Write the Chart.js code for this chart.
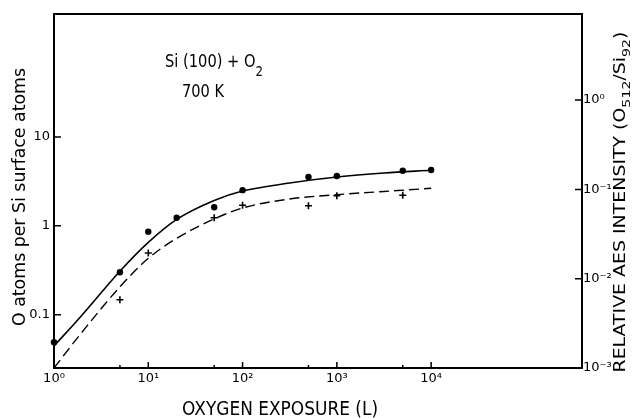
<!DOCTYPE html>
<html lang="en">
<head>
    <meta charset="UTF-8">
    <title>Si(100) + O2, 700 K</title>
    <script src="https://cdn.jsdelivr.net/npm/chart.js@4.4.0"></script>
    <style>
        html, body { margin: 0; padding: 0; background: #fff; }
        .chart-box { position: relative; width: 636px; height: 418px; }
    </style>
</head>
<body>
    <div class="chart-box">
        <canvas id="oxChart"></canvas>
    </div>

    <script>
        // measured points (solid circles, left axis)
        const exposure = [1, 5, 10, 20, 50, 100, 500, 1000, 5000, 10000];
        const coverage = [0.049, 0.30, 0.86, 1.23, 1.62, 2.52, 3.54, 3.64, 4.17, 4.24];

        // AES intensity points (crosses, right axis)
        const aesExposure = [5, 10, 50, 100, 500, 1000, 5000];
        const aesIntensity = [0.0058, 0.0194, 0.0482, 0.0664, 0.0657, 0.0849, 0.0859];

        // hand-drawn curves
        const fitExposure = [1, 2, 5, 10, 20, 50, 100, 316, 1000, 3162, 10000];
        const coverageFit = [0.0443, 0.100, 0.308, 0.65, 1.18, 1.93, 2.46, 3.03, 3.54, 3.93, 4.22];
        const aesFit = [0.001, 0.00255, 0.0081, 0.0169, 0.0283, 0.0466, 0.0619, 0.0781, 0.0873, 0.0948, 0.1028];

        // ticks
        const xMajorTicks = [1, 10, 100, 1000, 10000];
        const xTickLabels = ['10⁰', '10¹', '10²', '10³', '10⁴'];
        const xMinorTicks = [5, 50, 500, 5000];
        const yTicks = [0.1, 1, 10];
        const yTickLabels = ['0.1', '1', '10'];
        const y2Ticks = [0.001, 0.01, 0.1, 1];
        const y2TickLabels = ['10⁻³', '10⁻²', '10⁻¹', '10⁰'];

        const FONT = '"DejaVu Sans", sans-serif';

        const pts = (xs, ys) => xs.map((x, i) => ({ x: x, y: ys[i] }));
        const labelFor = (vals, labels) => (v) => {
            const i = vals.findIndex(t => Math.abs(t - v) / t < 1e-6);
            return i < 0 ? '' : labels[i];
        };

        // text squeezed to a given width, with optional subscripts
        function drawRich(ctx, parts, x, y, size, width, angle, subScale, subDrop) {
            ctx.save();
            ctx.translate(x, y);
            ctx.rotate(angle);
            let natural = 0;
            parts.forEach(p => {
                ctx.font = (p[1] ? size * subScale : size) + 'px ' + FONT;
                natural += ctx.measureText(p[0]).width;
            });
            ctx.scale(width / natural, 1);
            ctx.textAlign = 'left';
            ctx.textBaseline = 'alphabetic';
            ctx.fillStyle = '#000';
            let cx = -natural / 2;
            parts.forEach(p => {
                ctx.font = (p[1] ? size * subScale : size) + 'px ' + FONT;
                ctx.fillText(p[0], cx, p[1] ? size * subDrop : 0);
                cx += ctx.measureText(p[0]).width;
            });
            ctx.restore();
        }

        const framePlugin = {
            id: 'frameAndText',
            afterDatasetsDraw(chart) {
                const ctx = chart.ctx;
                const { left, right, top, bottom } = chart.chartArea;
                ctx.save();
                ctx.strokeStyle = '#000';
                ctx.lineWidth = 2;
                ctx.strokeRect(left, top, right - left, bottom - top);

                ctx.lineWidth = 1.5;
                ctx.beginPath();
                const xs = chart.scales.x;
                xs.ticks.forEach(t => {
                    const px = xs.getPixelForValue(t.value);
                    const len = xMajorTicks.includes(t.value) ? 6 : 3;
                    ctx.moveTo(px, bottom);
                    ctx.lineTo(px, bottom - len);
                });
                chart.scales.y.ticks.forEach(t => {
                    const py = chart.scales.y.getPixelForValue(t.value);
                    ctx.moveTo(left, py);
                    ctx.lineTo(left + 7, py);
                });
                chart.scales.y2.ticks.forEach(t => {
                    const py = chart.scales.y2.getPixelForValue(t.value);
                    ctx.moveTo(right, py);
                    ctx.lineTo(right - 7, py);
                });
                ctx.stroke();
                ctx.restore();

                // axis titles
                drawRich(ctx, [['OXYGEN EXPOSURE (L)', false]], 280, 415, 19, 196, 0, 0.7, 0.3);
                drawRich(ctx, [['O atoms per Si surface atoms', false]], 25, 197, 17, 258, -Math.PI / 2, 0.7, 0.3);
                drawRich(ctx, [['RELATIVE AES INTENSITY (O', false], ['512', true], ['/Si', false], ['92', true], [')', false]],
                    625, 202, 15, 341, -Math.PI / 2, 0.75, 0.32);

                // annotation
                drawRich(ctx, [['Si (100) + O', false], ['2', true]], 214, 67, 17, 98, 0, 0.8, 0.5);
                drawRich(ctx, [['700 K', false]], 203, 97, 17, 42, 0, 0.8, 0.5);
            }
        };

        const config = {
            type: 'scatter',
            data: {
                datasets: [
                    {
                        label: 'coverage fit',
                        data: pts(fitExposure, coverageFit),
                        showLine: true,
                        borderColor: '#000',
                        borderWidth: 1.6,
                        pointRadius: 0,
                        cubicInterpolationMode: 'monotone',
                        yAxisID: 'y'
                    },
                    {
                        label: 'AES fit',
                        data: pts(fitExposure, aesFit),
                        showLine: true,
                        borderColor: '#000',
                        borderWidth: 1.4,
                        borderDash: [10, 5],
                        pointRadius: 0,
                        cubicInterpolationMode: 'monotone',
                        yAxisID: 'y2'
                    },
                    {
                        label: 'O coverage',
                        data: pts(exposure, coverage),
                        pointStyle: 'circle',
                        pointRadius: 3.2,
                        backgroundColor: '#000',
                        borderColor: '#000',
                        borderWidth: 0,
                        clip: false,
                        yAxisID: 'y'
                    },
                    {
                        label: 'AES intensity',
                        data: pts(aesExposure, aesIntensity),
                        pointStyle: 'cross',
                        pointRadius: 3.5,
                        borderColor: '#000',
                        borderWidth: 1.6,
                        clip: false,
                        yAxisID: 'y2'
                    }
                ]
            },
            options: {
                responsive: true,
                maintainAspectRatio: false,
                animation: false,
                layout: { padding: { top: 14, left: 0, right: 0, bottom: 0 } },
                plugins: {
                    legend: { display: false },
                    tooltip: { enabled: false }
                },
                scales: {
                    x: {
                        type: 'logarithmic',
                        position: 'bottom',
                        min: 1,
                        max: 398107,
                        grid: { display: false, drawTicks: false },
                        border: { display: false },
                        afterBuildTicks: (s) => {
                            s.ticks = xMajorTicks.concat(xMinorTicks).sort((a, b) => a - b).map(v => ({ value: v }));
                        },
                        afterFit: (s) => { s.height = 50; },
                        ticks: {
                            autoSkip: false,
                            maxRotation: 0,
                            padding: 3,
                            color: '#000',
                            font: { family: FONT, size: 13 },
                            callback: labelFor(xMajorTicks, xTickLabels)
                        }
                    },
                    y: {
                        type: 'logarithmic',
                        position: 'left',
                        min: 0.0251,
                        max: 242,
                        grid: { display: false, drawTicks: false },
                        border: { display: false },
                        afterBuildTicks: (s) => { s.ticks = yTicks.map(v => ({ value: v })); },
                        afterFit: (s) => { s.width = 54; },
                        ticks: {
                            autoSkip: false,
                            padding: 4,
                            color: '#000',
                            font: { family: FONT, size: 13 },
                            callback: labelFor(yTicks, yTickLabels)
                        }
                    },
                    y2: {
                        type: 'logarithmic',
                        position: 'right',
                        min: 0.001,
                        max: 9.2,
                        grid: { display: false, drawTicks: false },
                        border: { display: false },
                        afterBuildTicks: (s) => { s.ticks = y2Ticks.map(v => ({ value: v })); },
                        afterFit: (s) => { s.width = 54; },
                        ticks: {
                            autoSkip: false,
                            padding: 1,
                            color: '#000',
                            font: { family: FONT, size: 13 },
                            callback: labelFor(y2Ticks, y2TickLabels)
                        }
                    }
                }
            },
            plugins: [framePlugin]
        };

        new Chart(document.getElementById('oxChart').getContext('2d'), config);
    </script>
</body>
</html>
